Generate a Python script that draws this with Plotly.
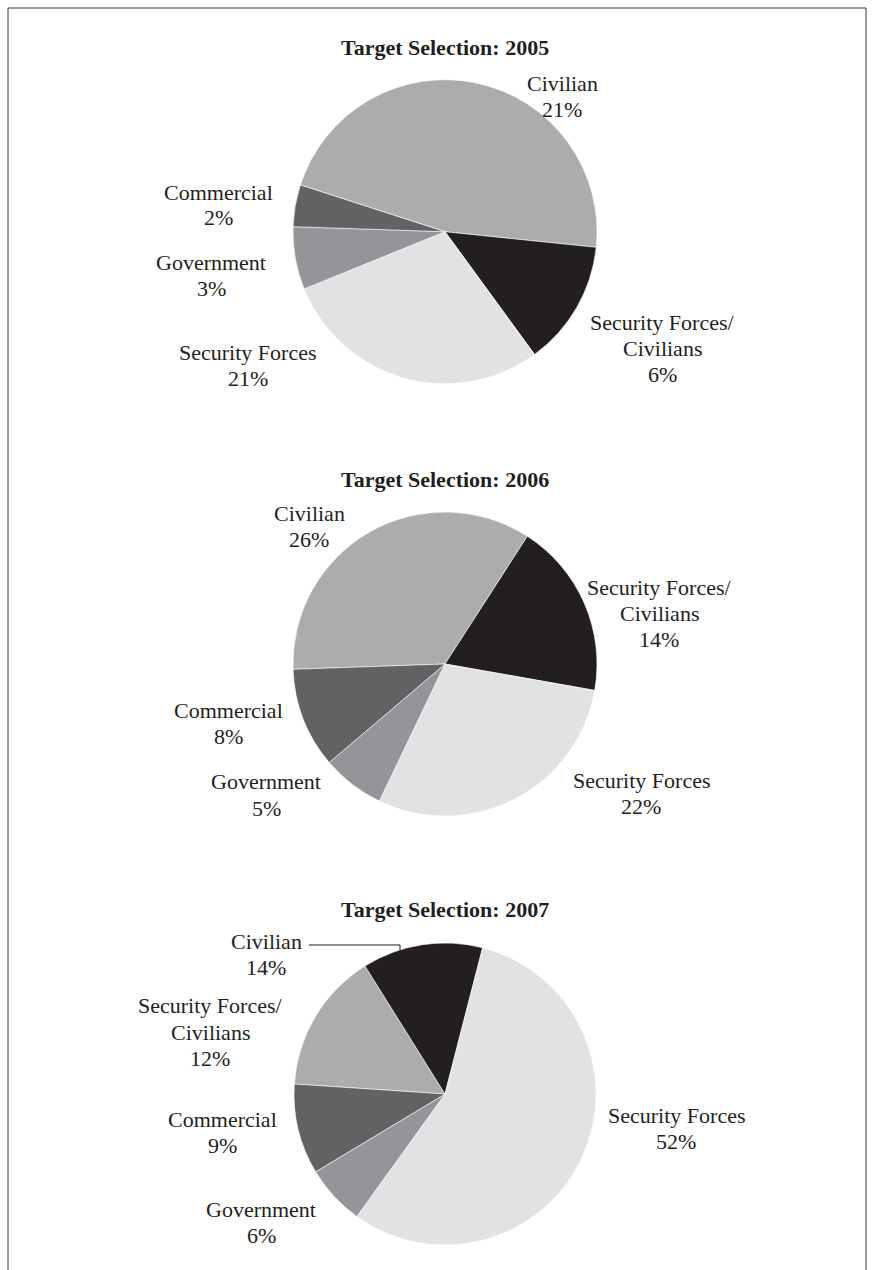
import plotly.graph_objects as go

W, H = 874, 1270

# ---- data ----
categories = ["Civilian", "Security Forces/Civilians", "Security Forces", "Government", "Commercial"]
years = ["2005", "2006", "2007"]
# slice sizes
values_2005 = [21, 6, 13, 3, 2]
values_2006 = [26, 14, 22, 5, 8]
values_2007 = [14, 12, 52, 6, 9]
# printed percentage labels
pct_2005 = ["21%", "6%", "21%", "3%", "2%"]
pct_2006 = ["26%", "14%", "22%", "5%", "8%"]
pct_2007 = ["14%", "12%", "52%", "6%", "9%"]
label_lines = [["Civilian"], ["Security Forces/", "Civilians"], ["Security Forces"], ["Government"], ["Commercial"]]

# ---- style / layout ----
colors = ["#abacae", "#231f20", "#e1e2e3", "#939598", "#616264"]
FONT = "Liberation Serif, Times New Roman, serif"
TXT = "#231f20"
FS = 22
LS = 26  # line spacing px

# pie centres/radii (px), rotation of first slice
pies = [
    dict(cx=445, cy=231.7, r=152, rot=-72.1),
    dict(cx=445, cy=664, r=152, rot=-92.0),
    dict(cx=445, cy=1094, r=151, rot=-86.2),
]
# label anchor (centre x, centre y of first line) per category per year
label_pos = [
    [(562, 84), (662, 322), (248, 352), (211, 262), (218, 192)],
    [(309, 513), (659, 587), (641, 780), (266, 782), (228, 710)],
    [(266, 941), (210, 1006), (676, 1115), (261, 1209), (222, 1119)],
]

def px(x):
    return x / W

def py(y):
    return 1 - y / H

fig = go.Figure()
all_vals = [values_2005, values_2006, values_2007]
all_pct = [pct_2005, pct_2006, pct_2007]
annotations = []
for i, (yr, vals, pcts, p) in enumerate(zip(years, all_vals, all_pct, pies)):
    fig.add_trace(go.Pie(
        labels=categories, values=vals, sort=False, direction="clockwise",
        rotation=p["rot"], textinfo="none", hoverinfo="none",
        marker=dict(colors=colors, line=dict(color="#ffffff", width=0.6)),
        domain=dict(x=[px(p["cx"] - p["r"]), px(p["cx"] + p["r"])],
                    y=[py(p["cy"] + p["r"]), py(p["cy"] - p["r"])]),
        showlegend=False,
    ))
    annotations.append(dict(
        text="<b>Target Selection: %s</b>" % yr, x=px(p["cx"]), y=py(p["cy"] - 184.5),
        xref="paper", yref="paper", showarrow=False, xanchor="center", yanchor="middle",
        font=dict(family=FONT, size=FS, color=TXT)))
    for j in range(len(categories)):
        lx, ly = label_pos[i][j]
        lines = label_lines[j] + [pcts[j]]
        for k, t in enumerate(lines):
            annotations.append(dict(
                text=t, x=px(lx), y=py(ly + k * LS), xref="paper", yref="paper",
                showarrow=False, xanchor="center", yanchor="middle",
                font=dict(family=FONT, size=FS, color=TXT)))

shapes = [
    dict(type="rect", xref="paper", yref="paper", x0=px(8), x1=px(866), y0=-0.05, y1=py(8),
         line=dict(color="#3a3a3a", width=1)),
    dict(type="path", xref="paper", yref="paper",
         path="M %f %f L %f %f L %f %f" % (px(309), py(945), px(400), py(945), px(400), py(952)),
         line=dict(color=TXT, width=1)),
]

fig.update_layout(
    width=W, height=H, margin=dict(l=0, r=0, t=0, b=0),
    paper_bgcolor="white", plot_bgcolor="white",
    annotations=annotations, shapes=shapes,
)
fig.write_html("out.html", config={"displayModeBar": False},
               post_script="document.body.style.margin='0';")
